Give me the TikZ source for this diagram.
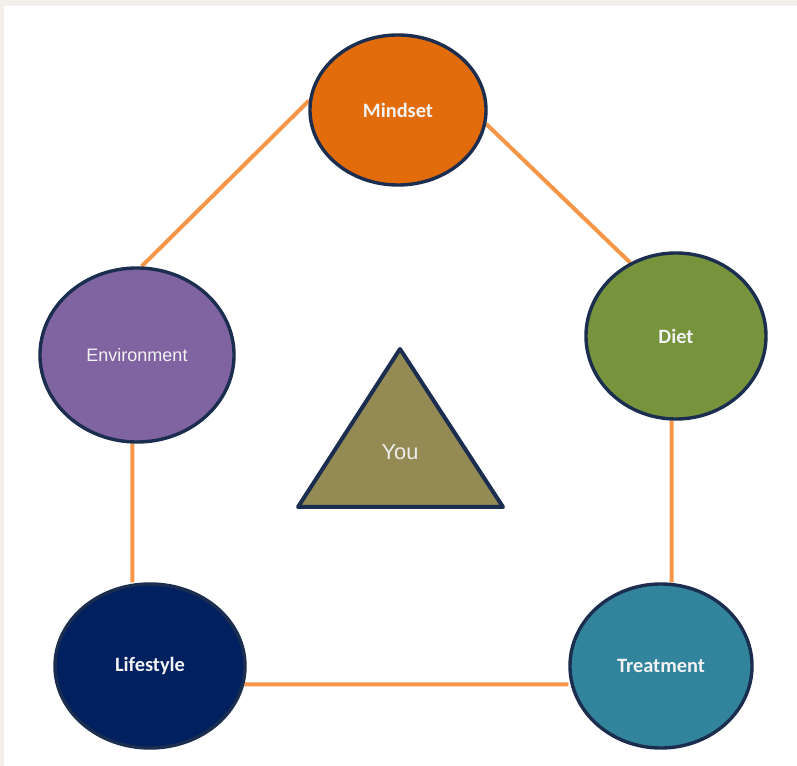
\documentclass[tikz,border=0pt]{standalone}
\usepackage{fontspec}
\newfontfamily\calfont{Carlito}
\newfontfamily\arialfont{Liberation Sans}
\usetikzlibrary{shapes.geometric,backgrounds,positioning}

\definecolor{mindsetorange}{HTML}{E36C0A}
\definecolor{dietgreen}{HTML}{77933C}
\definecolor{envpurple}{HTML}{8064A2}
\definecolor{lifenavy}{HTML}{002060}
\definecolor{treatteal}{HTML}{31849B}
\definecolor{youkhaki}{HTML}{948A54}
\definecolor{rimnavy}{HTML}{1B2E4F}
\definecolor{linkorange}{HTML}{F79646}
\definecolor{framegray}{HTML}{F2EFEA}

\begin{document}
\begin{tikzpicture}
%Diet circle picture
	[
	 x=0.025cm, y=-0.025cm,
	 %Styles
	 topic_node/.style={ellipse,draw=rimnavy,line width=0.085cm,inner sep=0pt,
	    text=white!95!black,font=\calfont\bfseries\fontsize{14.5}{17}\selectfont},
	 link_line/.style={draw=linkorange,line width=0.1cm},
	 you_shape/.style={draw=rimnavy,line width=0.1cm,fill=youkhaki,line join=round}
	]

	%Frame
	\useasboundingbox (0,0) rectangle (797,766);
	\begin{scope}[on background layer]
	\fill[framegray] (0,0) rectangle (797,766);
	\fill[white] (4,6) rectangle (797,766);
	\end{scope}

	%Node placement
	\node (mindset) [topic_node, fill=mindsetorange, minimum width=4.4cm, minimum height=3.75cm]
	   at (398,110) {Mindset};
	\node (diet) [topic_node, fill=dietgreen, minimum width=4.5cm, minimum height=4.15cm]
	   at (676,336) {Diet};
	\node (environment) [topic_node, fill=envpurple, minimum width=4.85cm, minimum height=4.35cm,
	   font=\arialfont\fontsize{12.8}{15}\selectfont] at (137,355) {Environment};
	\node (lifestyle) [topic_node, fill=lifenavy, minimum width=4.75cm, minimum height=4.1cm]
	   at (150,666) {Lifestyle};
	\node (treatment) [topic_node, fill=treatteal, minimum width=4.55cm, minimum height=4.1cm]
	   at (661,666) {Treatment};

	%Centre triangle
	\draw[you_shape] (400,349) -- (503,507) -- (298,507) -- cycle;
	\node (you) at (400,452) [text=white!93!black,font=\arialfont\fontsize{15.5}{18}\selectfont] {You};

	%Edges
	\begin{scope}[on background layer]
	\path[link_line]
	    (mindset.174) -- (environment.87)
	    (mindset.-9) -- (diet.122)
	    (diet.-93) -- (diet.-93 |- treatment.north)
	    (environment.-93) -- (environment.-93 |- lifestyle.north)
	    (lifestyle.-11.6) -- (lifestyle.-11.6 -| treatment.west);
	\end{scope}
\end{tikzpicture}
\end{document}
